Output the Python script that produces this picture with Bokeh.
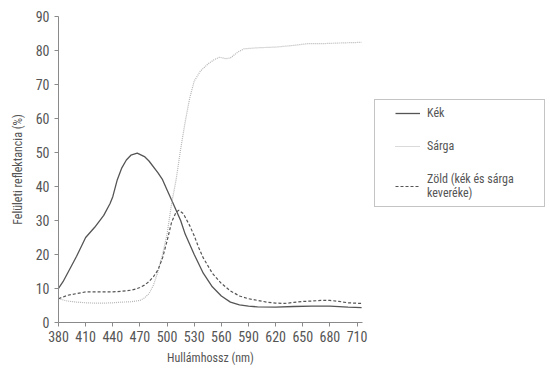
from bokeh.plotting import figure
from bokeh.models import Legend, LegendItem, Range1d, FixedTicker
from bokeh.embed import file_html
from bokeh.resources import INLINE

# Wavelength (nm) and surface reflectance (%)
kek_x = [380, 385, 390, 400, 410, 420, 430, 437, 440, 445, 450, 455, 460, 467, 475, 480,
         490, 495, 500, 505, 510, 515, 520, 525, 530, 540, 550, 560, 570, 580, 590, 600,
         620, 640, 660, 680, 700, 715]
kek_y = [10, 12, 14.5, 19.5, 25, 28, 31.5, 35, 37, 42, 45.5, 47.8, 49.2, 49.8, 48.8, 47.5,
         44, 42, 39, 36, 33, 30, 26, 23, 20, 14.5, 10.5, 7.8, 6, 5.2, 4.8, 4.6,
         4.5, 4.7, 4.8, 4.8, 4.5, 4.4]

sarga_x = [380, 390, 400, 410, 420, 430, 440, 450, 460, 470, 475, 480, 485, 490, 495, 500,
           505, 510, 515, 520, 525, 530, 537, 545, 552, 558, 565, 570, 578, 585, 600, 620,
           640, 655, 670, 690, 715]
sarga_y = [7, 6.3, 6, 5.8, 5.7, 5.7, 5.8, 6, 6.1, 6.5, 7.2, 8.5, 11, 15, 20, 26,
           35, 42, 51, 59, 66, 71, 74, 76, 77.3, 78, 77.6, 77.8, 79.5, 80.5, 80.8, 81,
           81.5, 82, 82, 82.2, 82.4]

zold_x = [380, 390, 400, 410, 420, 430, 440, 450, 460, 465, 470, 475, 480, 485, 490, 495,
          500, 505, 510, 513, 518, 525, 530, 535, 540, 550, 560, 570, 580, 590, 600, 610,
          620, 630, 640, 650, 660, 670, 680, 690, 700, 715]
zold_y = [7, 8, 8.5, 9, 9, 9, 9, 9.2, 9.5, 9.8, 10.3, 11, 12, 13.5, 15.5, 19,
          24, 29.5, 32.5, 33, 32, 28.5, 25.5, 22, 19, 14.5, 11.5, 9.3, 7.8, 7, 6.5, 6,
          5.7, 5.6, 5.9, 6.2, 6.3, 6.5, 6.5, 6.2, 5.8, 5.6]

x_ticks = [380, 410, 440, 470, 500, 530, 560, 590, 620, 650, 680, 710]
y_ticks = [0, 10, 20, 30, 40, 50, 60, 70, 80, 90]

labels = ["Kék", "Sárga", "Zöld (kék és sárga\nkeveréke)"]
x_title = "Hullámhossz (nm)"
y_title = "Felületi reflektancia (%)"

FONT = "Liberation Sans Narrow, Roboto Condensed, Arial Narrow, sans-serif"
AX = "#8a8a8a"
TXT = "#555555"

p = figure(frame_width=304, frame_height=306, output_backend="svg", toolbar_location=None,
           x_range=Range1d(380, 716), y_range=Range1d(0, 90),
           min_border_left=58, min_border_right=10, min_border_top=16, min_border_bottom=55)
p.outline_line_color = None
p.xgrid.visible = False
p.ygrid.visible = False

r1 = p.line(kek_x, kek_y, line_color="#555555", line_width=1.3)
r2 = p.line(sarga_x, sarga_y, line_color="#b5b5b5", line_width=1.2, line_dash="1 1")
r3 = p.line(zold_x, zold_y, line_color="#555555", line_width=1.2, line_dash="3 2")

for ax in (p.xaxis[0], p.yaxis[0]):
    ax.axis_line_color = AX
    ax.major_tick_line_color = AX
    ax.minor_tick_line_color = None
    ax.major_tick_in = 0
    ax.major_tick_out = 4
    ax.major_label_text_font = FONT
    ax.major_label_text_font_size = "14px"
    ax.major_label_text_color = TXT
    ax.axis_label_text_font = FONT
    ax.axis_label_text_font_size = "12px"
    ax.axis_label_text_font_style = "normal"
    ax.axis_label_text_color = TXT

p.xaxis.ticker = FixedTicker(ticks=x_ticks)
p.yaxis.ticker = FixedTicker(ticks=y_ticks)
p.xaxis.axis_label = x_title
p.yaxis.axis_label = y_title
p.xaxis.major_label_standoff = 4
p.yaxis.major_label_standoff = 5
p.xaxis.axis_label_standoff = 6
p.yaxis.axis_label_standoff = 8

legend = Legend(items=[LegendItem(label=labels[0], renderers=[r1]),
                       LegendItem(label=labels[1], renderers=[r2]),
                       LegendItem(label=labels[2], renderers=[r3])],
                location=(12, 115))
legend.border_line_color = AX
legend.border_line_width = 1.2
legend.label_text_font = FONT
legend.label_text_font_size = "12px"
legend.label_text_color = TXT
legend.glyph_width = 25
legend.glyph_height = 14
legend.label_height = 14
legend.label_width = 97
legend.spacing = 19
legend.padding = (20, 6)
legend.label_standoff = 7
legend.margin = 0
p.add_layout(legend, "right")

open("out.html", "w").write(file_html(p, INLINE))
